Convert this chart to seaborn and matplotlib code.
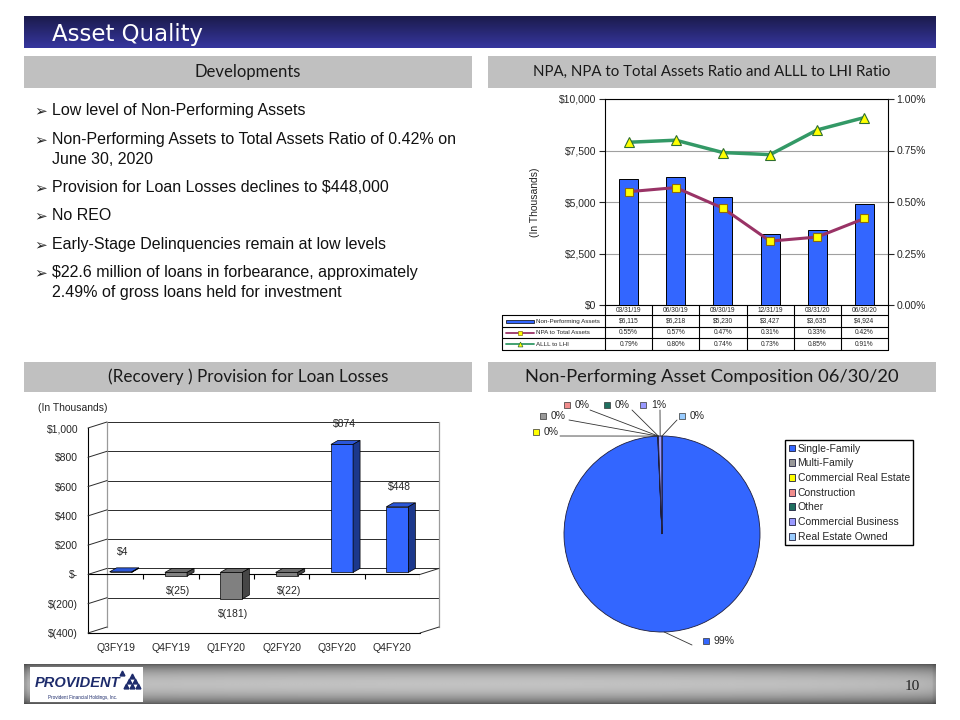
import numpy as np
import seaborn as sns
import matplotlib.pyplot as plt
import matplotlib.ticker as mticker
from matplotlib.colors import LinearSegmentedColormap, to_rgb
from matplotlib.patches import Rectangle, Polygon

# --- data ---
quarter_dates = ['03/31/19', '06/30/19', '09/30/19', '12/31/19', '03/31/20', '06/30/20']
npa_values = [6115, 6218, 5230, 3427, 3635, 4924]        # $ thousands
npa_to_assets = [0.55, 0.57, 0.47, 0.31, 0.33, 0.42]     # %
alll_to_lhi = [0.79, 0.80, 0.74, 0.73, 0.85, 0.91]       # %

fiscal_quarters = ['Q3FY19', 'Q4FY19', 'Q1FY20', 'Q2FY20', 'Q3FY20', 'Q4FY20']
provision = [4, -25, -181, -22, 874, 448]                 # $ thousands

npa_types = ['Single-Family', 'Multi-Family', 'Commercial Real Estate', 'Construction',
             'Other', 'Commercial Business', 'Real Estate Owned']
npa_share = [99.3, 0.05, 0.05, 0.0, 0.0, 0.6, 0.0]        # % of NPA
pie_colors = ['#3366ff', '#999999', '#ffff00', '#f08c8c', '#1f6f5f', '#9999ff', '#99ccff']

bullets = [
    'Low level of Non-Performing Assets',
    'Non-Performing Assets to Total Assets Ratio of 0.42% on\nJune 30, 2020',
    'Provision for Loan Losses declines to $448,000',
    'No REO',
    'Early-Stage Delinquencies remain at low levels',
    '$22.6 million of loans in forbearance, approximately\n2.49% of gross loans held for investment',
]

BLUE = '#3366ff'

sns.set_theme(style='white')
plt.rcParams['font.family'] = ['Liberation Sans', 'DejaVu Sans']
plt.rcParams['text.parse_math'] = False

W, H = 960, 720
fig = plt.figure(figsize=(W / 100, H / 100), dpi=100)
fig.patch.set_facecolor('white')


def box(x0, y0, x1, y1):
    return [x0 / W, 1 - y1 / H, (x1 - x0) / W, (y1 - y0) / H]


def to_px(a, x, y):
    dx, dy = a.transData.transform((x, y))
    return dx, H - dy


def money(v):
    if v == 0:
        return '$-'
    return f'$({abs(v):,.0f})' if v < 0 else f'${v:,.0f}'


def shade(c, f):
    return tuple(min(1, max(0, ch * f)) for ch in to_rgb(c))


# overlay in pixel coords for slide decorations
ov = fig.add_axes([0, 0, 1, 1], zorder=10)
ov.patch.set_visible(False)
ov.axis('off')
ov.set_xlim(0, W)
ov.set_ylim(H, 0)

# --- NPA chart (top right) ---
ax = fig.add_axes(box(605, 99, 888, 305))
sns.barplot(x=quarter_dates, y=npa_values, color=BLUE, saturation=1, width=0.4,
            edgecolor='black', linewidth=0.7, ax=ax, zorder=3)
ax.set_xlim(-0.5, 5.5)
ax.set_ylim(0, 10000)
ax.yaxis.set_major_locator(mticker.MultipleLocator(2500))
ax.yaxis.set_major_formatter(mticker.FuncFormatter(lambda v, p: f'${v:,.0f}'))
ax.grid(axis='y', color='#a0a0a0', lw=0.8)
ax.set_axisbelow(True)
ax.set_xlabel('')
ax.set_xticklabels([])
ax.tick_params(axis='x', length=0)
ax.tick_params(axis='y', labelsize=7.5, length=4, width=0.8, direction='out', left=True, pad=2)
ax.set_ylabel('(In Thousands)', fontsize=7.5)
ax.yaxis.set_label_coords(-0.23, 0.5)
for s in ax.spines.values():
    s.set_color('black')
    s.set_linewidth(0.8)

ax2 = ax.twinx()
sns.pointplot(x=quarter_dates, y=alll_to_lhi, ax=ax2, color='#339966', markers='^',
              errorbar=None, linewidth=2.5, markersize=7, markerfacecolor='#ffff00',
              markeredgecolor='#2f6f2f', markeredgewidth=0.8)
sns.pointplot(x=quarter_dates, y=npa_to_assets, ax=ax2, color='#993366', markers='s',
              errorbar=None, linewidth=2.2, markersize=5.5, markerfacecolor='#ffff00',
              markeredgecolor='#8a6a10', markeredgewidth=0.8)
ax2.set_xlim(-0.5, 5.5)
ax2.set_ylim(0, 1.0)
ax2.yaxis.set_major_locator(mticker.MultipleLocator(0.25))
ax2.yaxis.set_major_formatter(mticker.FuncFormatter(lambda v, p: f'{v:.2f}%'))
ax2.tick_params(axis='y', labelsize=7.5, length=4, width=0.8, direction='out', right=True, pad=2)
ax2.set_ylabel('')
ax2.set_xlabel('')
ax2.grid(False)
for s in ax2.spines.values():
    s.set_visible(False)
ax.set_xticklabels([])

# data table under the NPA chart
col_edges = [to_px(ax, i - 0.5, 0)[0] for i in range(7)]
col_mid = [to_px(ax, i, 0)[0] for i in range(6)]
row_edges = [305, 315, 327, 338, 350]
tbl_left = 502
tk = dict(color='black', lw=0.8)
for y in row_edges[1:]:
    ov.plot([tbl_left, col_edges[-1]], [y, y], **tk)
for x in col_edges:
    ov.plot([x, x], [row_edges[0], row_edges[-1]], **tk)
ov.plot([tbl_left, tbl_left], [row_edges[1], row_edges[-1]], **tk)
fs_t = 4.8
for i in range(6):
    ov.text(col_mid[i], 310, quarter_dates[i], fontsize=fs_t, ha='center', va='center')
    ov.text(col_mid[i], 321, f'${npa_values[i]:,}', fontsize=fs_t, ha='center', va='center')
    ov.text(col_mid[i], 332.5, f'{npa_to_assets[i]:.2f}%', fontsize=fs_t, ha='center', va='center')
    ov.text(col_mid[i], 344, f'{alll_to_lhi[i]:.2f}%', fontsize=fs_t, ha='center', va='center')
ov.add_patch(Rectangle((506, 319.5), 28, 3.2, facecolor=BLUE, edgecolor='black', lw=0.5))
ov.plot([506, 534], [332.5, 332.5], color='#993366', lw=1.3)
ov.plot([520], [332.5], marker='s', ms=3, mfc='#ffff00', mec='#8a6a10', mew=0.5)
ov.plot([506, 534], [344, 344], color='#339966', lw=1.3)
ov.plot([520], [344], marker='^', ms=3.5, mfc='#ffff00', mec='#2f6f2f', mew=0.5)
for y, lab in zip([321, 332.5, 344], ['Non-Performing Assets', 'NPA to Total Assets', 'ALLL to LHI']):
    ov.text(536, y, lab, fontsize=4.5, ha='left', va='center')

# --- provision chart (bottom left), faux 3D ---
axb = fig.add_axes(box(107, 422, 439, 627))
axb.set_xlim(0, 1)
axb.set_ylim(-400, 1000)
axb.set_yticks(range(-400, 1001, 200))
axb.set_xticks([])
axb.tick_params(length=0, labelleft=False)
axb.grid(axis='y', color='#2b2b2b', lw=0.7)
for side in ['top', 'bottom']:
    axb.spines[side].set_visible(False)
for side in ['left', 'right']:
    axb.spines[side].set_color('#9a9a9a')
    axb.spines[side].set_linewidth(0.9)

axf = fig.add_axes(box(88, 428, 420, 633))
axf.patch.set_visible(False)
axf.set_xlim(-0.5, 5.5)
axf.set_ylim(-400, 1000)
axf.set_yticks(range(-400, 1001, 200))
axf.yaxis.set_major_formatter(mticker.FuncFormatter(lambda v, p: money(v)))
axf.set_xticks(range(6))
axf.set_xticklabels(fiscal_quarters)
axf.tick_params(axis='x', length=0, pad=7, labelsize=7.5)
axf.tick_params(axis='y', length=0, pad=7, labelsize=7.5)
for side in ['top', 'right']:
    axf.spines[side].set_visible(False)
for side in ['left', 'bottom']:
    axf.spines[side].set_color('black')
    axf.spines[side].set_linewidth(0.8)
axf.axhline(0, color='black', lw=0.8)
axf.vlines(np.arange(0.5, 6, 1), -28, 0, color='black', lw=0.8)

# side-wall connectors between front axis and back wall
for v in range(-400, 1001, 200):
    p0 = to_px(axf, -0.5, v)
    p1 = to_px(axb, 0, v)
    ov.plot([p0[0], p1[0]], [p0[1], p1[1]], color='#2b2b2b', lw=0.7)
for v in [-400, 0]:
    p0 = to_px(axf, 5.5, v)
    p1 = to_px(axb, 1, v)
    ov.plot([p0[0], p1[0]], [p0[1], p1[1]], color='#2b2b2b', lw=0.7)

ax3 = fig.add_axes(box(93, 426, 425, 631))
ax3.patch.set_visible(False)
bar_colors = [BLUE if v >= 0 else '#808080' for v in provision]
sns.barplot(x=fiscal_quarters, y=provision, hue=fiscal_quarters, palette=bar_colors, legend=False,
            saturation=1, width=0.4, edgecolor='black', linewidth=0.5, ax=ax3)
ax3.set_xlim(-0.5, 5.5)
ax3.set_ylim(-400, 1000)
ax3.axis('off')
dx, dy = 7, -4
for p in ax3.patches:
    x0, x1 = p.get_x(), p.get_x() + p.get_width()
    top = max(p.get_y(), p.get_y() + p.get_height())
    bot = min(p.get_y(), p.get_y() + p.get_height())
    tl, tr, br = to_px(ax3, x0, top), to_px(ax3, x1, top), to_px(ax3, x1, bot)
    fc = p.get_facecolor()
    ov.add_patch(Polygon([tl, tr, (tr[0] + dx, tr[1] + dy), (tl[0] + dx, tl[1] + dy)],
                         facecolor=shade(fc, 0.85), edgecolor='black', lw=0.5))
    ov.add_patch(Polygon([tr, br, (br[0] + dx, br[1] + dy), (tr[0] + dx, tr[1] + dy)],
                         facecolor=shade(fc, 0.55), edgecolor='black', lw=0.5))
for i, v in enumerate(provision):
    ax3.annotate(money(v), (i, v), xytext=(2, 20 if v >= 0 else -15), textcoords='offset pixels',
                 ha='center', va='center', fontsize=7.5, annotation_clip=False)
ov.text(38, 408, '(In Thousands)', fontsize=7.5, ha='left', va='center')

# --- NPA composition pie (bottom right) ---
axp = fig.add_axes(box(539.5, 411.5, 784.5, 656.5))
wedges, _ = axp.pie(npa_share, colors=pie_colors, startangle=90, counterclock=False,
                    wedgeprops=dict(edgecolor='#1e1e3c', linewidth=0.6))
axp.set_xlim(-1.25, 1.25)
axp.set_ylim(-1.25, 1.25)
fig.legend(wedges, npa_types, loc='upper left', bbox_to_anchor=(785 / W, 1 - 440 / H),
           frameon=True, fancybox=False, edgecolor='black', framealpha=1, fontsize=7.5,
           handlelength=0.65, handleheight=0.65, handletextpad=0.2, labelspacing=0.45,
           borderpad=0.35, borderaxespad=0)

label_sq = [(706, 641), (543, 416), (536, 432), (567, 405), (607, 405), (643, 405), (682, 416)]
leader_start = [(692, 645), (569, 420), (560, 436), (590, 410), (632, 410), (660, 410), (677, 420)]
for w, share, col, sq, ls in zip(wedges, npa_share, pie_colors, label_sq, leader_start):
    ang = np.deg2rad((w.theta1 + w.theta2) / 2)
    anchor = to_px(axp, np.cos(ang), np.sin(ang))
    ov.plot([ls[0], anchor[0]], [ls[1], anchor[1]], color='#333333', lw=0.6)
    ov.plot([sq[0]], [sq[1]], marker='s', ms=4.5, mfc=col, mec='#333333', mew=0.5)
    ov.text(sq[0] + 8, sq[1], f'{share:.0f}%', fontsize=7.5, ha='left', va='center')

# --- slide frame ---
grad = np.linspace(0, 1, 64).reshape(-1, 1)
title_cmap = LinearSegmentedColormap.from_list('title', ['#1b1b4c', '#36369e'])
ov.imshow(grad, cmap=title_cmap, extent=(24, 936, 48, 16), aspect='auto', zorder=0)
ov.text(52, 34, 'Asset Quality', color='white', fontsize=16.5, ha='left', va='center',
        family='DejaVu Sans')

headers = [((24, 56, 472, 88), 'Developments', 12),
           ((488, 56, 936, 88), 'NPA, NPA to Total Assets Ratio and ALLL to LHI Ratio', 10.8),
           ((24, 362, 472, 392), '(Recovery ) Provision for Loan Losses', 12.3),
           ((488, 362, 936, 392), 'Non-Performing Asset Composition 06/30/20', 13.2)]
for (x0, y0, x1, y1), txt, fs in headers:
    ov.add_patch(Rectangle((x0, y0), x1 - x0, y1 - y0, facecolor='#c0c0c0', edgecolor='none'))
    ov.text((x0 + x1) / 2, (y0 + y1) / 2, txt, fontsize=fs, ha='center', va='center',
            color='#1a1a1a', family='Lato')

y = 111
for b in bullets:
    ov.text(34, y, '\u27a2', fontsize=11, ha='left', va='center', family='DejaVu Sans')
    for k, line in enumerate(b.split('\n')):
        ov.text(52, y + 19.5 * k, line, fontsize=11.5, ha='left', va='center', color='#111111')
    y += 28.5 + 19.5 * b.count('\n')

ys = np.linspace(0, 1, 60)[:, None]
xs = np.linspace(0, 1, 300)[None, :]
foot = (0.36 + 0.4 * np.sin(np.pi * ys) ** 0.7) * (0.82 + 0.18 * np.sin(np.pi * xs) ** 0.15)
ov.imshow(foot, cmap='gray', vmin=0, vmax=1, extent=(24, 936, 704, 664), aspect='auto', zorder=0)
ov.add_patch(Rectangle((30, 667), 113, 35, facecolor='white', edgecolor='none', zorder=2))
ov.text(35, 683, 'PROVIDENT', fontsize=10.5, weight='bold', style='italic', color='#1d2b6b',
        ha='left', va='center', zorder=3)
for mx, my in [(126, 686), (132, 686), (138, 686), (129, 681), (135, 681), (132, 676), (122, 673)]:
    ov.plot([mx], [my], marker='^', ms=3.5, color='#1d2b6b', zorder=3)
ov.text(48, 697, 'Provident Financial Holdings, Inc.', fontsize=3.3, color='#1d2b6b',
        ha='left', va='center', zorder=3)
ov.text(912, 687, '10', fontsize=11, family='Liberation Serif', ha='center', va='center',
        color='#222222')

ov.set_xlim(0, W)
ov.set_ylim(H, 0)

fig.savefig('out.png', dpi=100)
